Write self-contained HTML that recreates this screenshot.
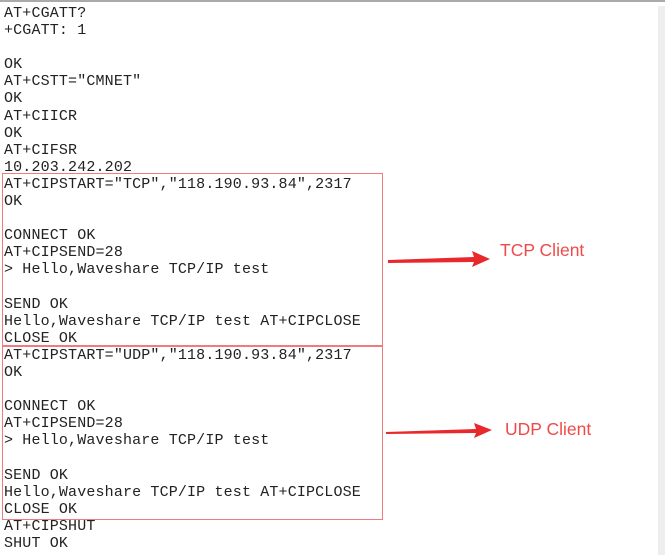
<!DOCTYPE html>
<html><head><style>
body{margin:0;width:665px;height:555px;background:#fff;position:relative;overflow:hidden}
pre{position:absolute;left:4px;top:5px;margin:0;font-family:"Liberation Mono",monospace;font-size:15px;line-height:17.1px;color:#222;letter-spacing:0.15px}
.box{position:absolute;border:1.5px solid #ef7b7e}
.lbl{position:absolute;font-family:"Liberation Sans",sans-serif;font-size:17.5px;color:#ef4a4a}
</style></head><body>
<div style="position:absolute;left:0;top:0;width:665px;height:2px;background:#aaa"></div>
<div style="position:absolute;left:658px;top:6px;width:7px;height:549px;background:#eee"></div>
<pre>AT+CGATT?
+CGATT: 1

OK
AT+CSTT="CMNET"
OK
AT+CIICR
OK
AT+CIFSR
10.203.242.202
AT+CIPSTART="TCP","118.190.93.84",2317
OK

CONNECT OK
AT+CIPSEND=28
&gt; Hello,Waveshare TCP/IP test

SEND OK
Hello,Waveshare TCP/IP test AT+CIPCLOSE
CLOSE OK
AT+CIPSTART="UDP","118.190.93.84",2317
OK

CONNECT OK
AT+CIPSEND=28
&gt; Hello,Waveshare TCP/IP test

SEND OK
Hello,Waveshare TCP/IP test AT+CIPCLOSE
CLOSE OK
AT+CIPSHUT
SHUT OK</pre>
<div class="box" style="left:2px;top:173px;width:379px;height:171px"></div>
<div class="box" style="left:2px;top:346px;width:379px;height:172px"></div>
<svg width="665" height="555" style="position:absolute;left:0;top:0">
<polygon points="388,260 474,257 472,251 490,259 472,267 474,262 388,263" fill="#e8282c"/>
<polygon points="386,432 476,429 474,423 492,430 474,438 476,433 386,434" fill="#e8282c"/>
</svg>
<div class="lbl" style="left:500px;top:240px">TCP Client</div>
<div class="lbl" style="left:505px;top:419px">UDP Client</div>
</body></html>
